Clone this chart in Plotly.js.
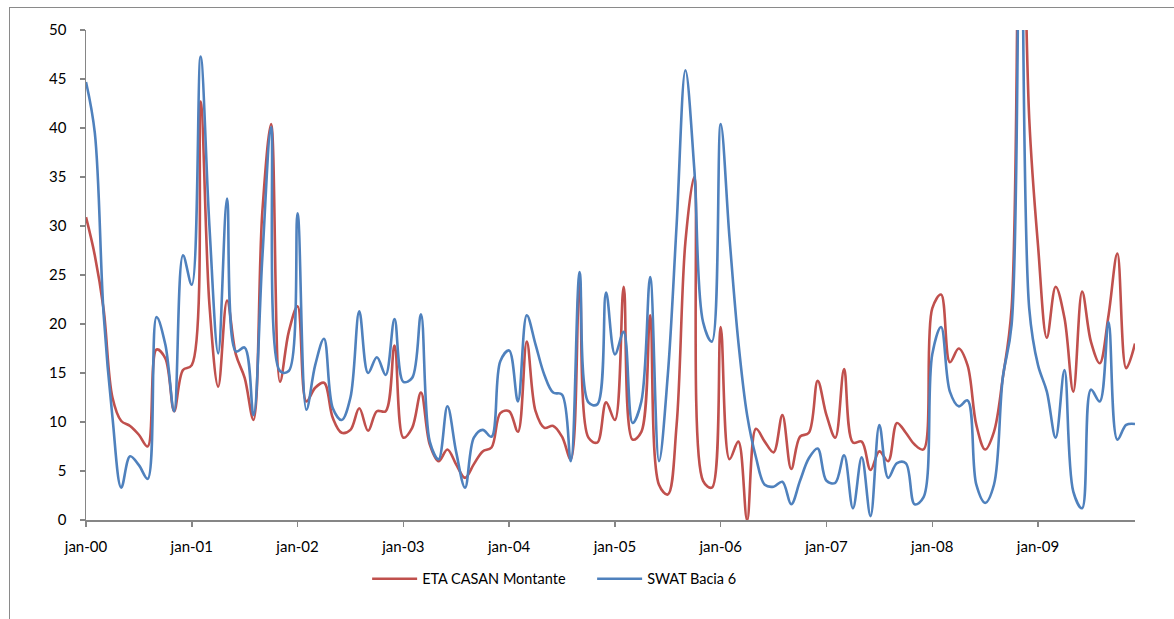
<!DOCTYPE html>
<html>
<head>
<meta charset="utf-8">
<script src="https://cdn.plot.ly/plotly-3.0.1.min.js"></script>
<style>
  html, body { margin: 0; padding: 0; background: #fff; }
  #wrap { position: relative; width: 1174px; height: 619px; overflow: hidden; }
  #chart { position: absolute; left: 0; top: 0; width: 1174px; height: 619px; }
  #frame { position: absolute; left: 9px; top: 7px; width: 1200px; height: 700px;
           border-left: 1px solid #8a8a8a; border-top: 1px solid #8a8a8a; pointer-events: none; }
</style>
</head>
<body>
<div id="wrap">
  <div id="chart"></div>
  <div id="frame"></div>
</div>
<script>
// Month names (Portuguese) and years of the series
const monthNames = ["jan","fev","mar","abr","mai","jun","jul","ago","set","out","nov","dez"];
const years = ["00","01","02","03","04","05","06","07","08","09"];

// Tick labels shown on the x axis
const tickLabels = ["jan-00","jan-01","jan-02","jan-03","jan-04","jan-05","jan-06","jan-07","jan-08","jan-09"];

// ETA CASAN Montante (monthly)
const etaCasan = [
  30.9, 27.0, 21.5, 12.5, 10.1, 9.6, 8.7, 7.5, 17.4, 16.5, 11.1, 15.3,
  15.8, 42.7, 22.0, 13.6, 22.4, 16.9, 14.5, 10.2, 31.4, 40.4, 14.1, 19.2,
  21.8, 12.1, 13.5, 14.0, 10.4, 8.9, 9.2, 11.4, 9.1, 11.1, 11.1, 17.8,
  8.4, 9.4, 13.0, 7.7, 6.0, 7.2, 5.65, 4.3, 5.7, 7.0, 7.4, 10.9,
  11.1, 9.0, 18.2, 11.1, 9.4, 9.6, 8.5, 6.2, 24.3, 8.4, 7.9, 12.0,
  10.2, 23.8, 8.2, 9.0, 20.9, 3.6, 2.6, 9.7, 28.4, 35.0, 4.0, 3.3,
  19.7, 6.2, 8.0, 0.0, 9.3, 8.0, 6.9, 10.7, 5.2, 8.5, 8.9, 14.2,
  10.7, 8.4, 15.4, 7.9, 8.0, 5.1, 7.0, 6.0, 9.9, 8.9, 7.7, 7.2,
  21.6, 23.0, 16.1, 17.5, 15.8, 9.7, 7.2, 9.0, 14.5, 21.6, 75.0, 41.0,
  28.0, 18.6, 23.8, 20.6, 13.1, 23.3, 18.2, 16.0, 20.9, 27.2, 15.5, 18.0
];

// SWAT Bacia 6 (monthly)
const swatBacia6 = [
  44.7, 39.5, 21.0, 10.5, 3.3, 6.5, 5.6, 4.2, 20.7, 17.9, 11.1, 27.0,
  24.0, 47.3, 30.0, 17.0, 32.8, 17.2, 17.6, 10.7, 26.7, 40.1, 15.2, 15.2,
  31.3, 11.25, 15.8, 18.5, 11.4, 10.2, 12.5, 21.3, 15.0, 16.6, 14.8, 20.5,
  14.1, 14.5, 21.0, 8.0, 6.2, 11.6, 6.9, 3.3, 8.4, 9.2, 8.5, 16.2,
  17.3, 12.1, 20.9, 17.9, 14.8, 13.0, 12.8, 6.0, 25.3, 12.0, 11.8, 23.2,
  16.9, 19.2, 9.9, 12.1, 24.8, 6.0, 14.8, 30.1, 45.9, 35.9, 20.2, 18.2,
  40.4, 28.8, 18.2, 10.7, 6.4, 3.6, 3.4, 3.9, 1.6, 4.0, 6.3, 7.3,
  4.0, 3.8, 6.6, 1.2, 6.4, 0.4, 9.7, 4.3, 5.8, 5.8, 1.6, 2.3,
  16.9, 19.7, 13.1, 11.6, 12.2, 3.6, 1.75, 3.6, 14.5, 19.9, 70.0, 21.6,
  15.8, 13.1, 8.4, 15.3, 2.9, 1.2, 13.3, 12.1, 20.2, 8.2, 9.7, 9.8
];

// Category labels for every month
const months = [];
years.forEach(y => monthNames.forEach(m => months.push(m + "-" + y)));

const FONT = "Lato, 'Open Sans', sans-serif";

const traces = [
  {
    x: months, y: etaCasan, name: "ETA CASAN Montante", type: "scatter", mode: "lines",
    line: { color: "#C0504D", width: 2.6, shape: "spline", smoothing: 1 }
  },
  {
    x: months, y: swatBacia6, name: "SWAT Bacia 6", type: "scatter", mode: "lines",
    line: { color: "#4F81BD", width: 2.6, shape: "spline", smoothing: 1 }
  }
];

const layout = {
  width: 1174, height: 619,
  margin: { l: 86, r: 39, t: 30, b: 98.5, pad: 0 },
  paper_bgcolor: "#ffffff", plot_bgcolor: "#ffffff",
  font: { family: FONT, size: 15, color: "#000" },
  showlegend: true,
  legend: {
    orientation: "h", x: 0.268, xanchor: "left", y: -0.12, yanchor: "middle",
    itemwidth: 45, entrywidth: 165, entrywidthmode: "pixels",
    font: { family: FONT, size: 14.5, color: "#000" }, bgcolor: "rgba(0,0,0,0)"
  },
  xaxis: {
    type: "category", range: [0, months.length - 1],
    tickmode: "array", tickvals: tickLabels, ticktext: tickLabels,
    showline: true, linecolor: "#868686", linewidth: 1.5,
    ticks: "outside", ticklen: 5, tickcolor: "#868686", tickwidth: 1.5,
    ticklabelstandoff: 7,
    showgrid: false, zeroline: false, fixedrange: true
  },
  yaxis: {
    range: [0, 50], tickmode: "array", tickvals: [0,5,10,15,20,25,30,35,40,45,50],
    showline: true, linecolor: "#868686", linewidth: 1.5,
    ticks: "outside", ticklen: 5, tickcolor: "#868686", tickwidth: 1.5,
    ticklabelstandoff: 10,
    showgrid: false, zeroline: false, fixedrange: true
  }
};

Plotly.newPlot("chart", traces, layout, { staticPlot: true, displayModeBar: false });
</script>
</body>
</html>
